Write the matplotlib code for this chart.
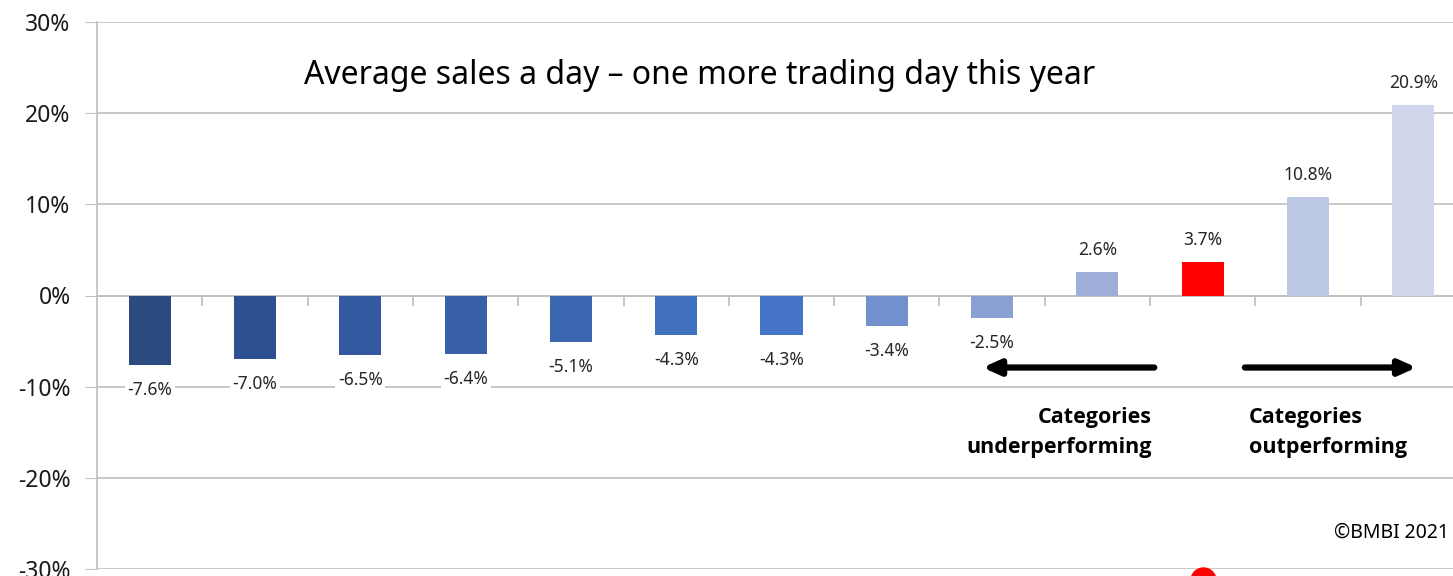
import matplotlib
matplotlib.use('Agg')
import matplotlib.pyplot as plt
import numpy as np

plt.rcParams['font.family'] = ['Noto Sans', 'DejaVu Sans']

# 各カテゴリの平均日販の伸び率 (%)
values = [-7.6, -7.0, -6.5, -6.4, -5.1, -4.3, -4.3, -3.4, -2.5, 2.6, 3.7, 10.8, 20.9]
labels = ['-7.6%', '-7.0%', '-6.5%', '-6.4%', '-5.1%', '-4.3%', '-4.3%',
          '-3.4%', '-2.5%', '2.6%', '3.7%', '10.8%', '20.9%']
colors = ['#2B4A7F', '#2E5090', '#3459A0', '#385FA8', '#3D66B0', '#4170BF', '#4674C9',
          '#7290CC', '#8A9FD2', '#9FAED8', '#FF0000', '#BDC8E3', '#D0D7EC']
yticks = [-30, -20, -10, 0, 10, 20, 30]
title = 'Average sales a day \u2013 one more trading day this year'

fig = plt.figure(figsize=(14.53, 5.76), dpi=100)
ax = fig.add_axes([97 / 1453, 7 / 576, (1466 - 97) / 1453, (569 - 22) / 576])

x = np.arange(len(values))
ax.bar(x, values, width=0.4, color=colors, zorder=3)

ax.set_xlim(-0.5, len(values) - 0.5)
ax.set_ylim(-30, 30)
ax.set_yticks(yticks)
ax.set_yticklabels([f'{t}%' for t in yticks], fontsize=16.5, color='#1a1a1a')
ax.yaxis.grid(True, color='#BFBFBF', linewidth=1.2, zorder=0)
ax.tick_params(axis='y', length=9, color='#BFBFBF', pad=10)

ax.set_xticks(np.arange(0.5, len(values) - 0.5, 1))
ax.set_xticklabels([])
ax.tick_params(axis='x', length=7, color='#BFBFBF', width=1.2)
ax.spines['bottom'].set_position(('data', 0))
ax.spines['bottom'].set_color('#BFBFBF')
ax.spines['bottom'].set_linewidth(1.2)
ax.spines['left'].set_color('#BFBFBF')
ax.spines['left'].set_linewidth(1.2)
ax.spines['top'].set_visible(False)
ax.spines['right'].set_visible(False)

for xi, v, lab in zip(x, values, labels):
    off = 16 if v > 0 else -18
    ax.annotate(lab, (xi, v), xytext=(0, off), textcoords='offset points',
                ha='center', va='center', fontsize=12.5, color='#262626', zorder=4,
                bbox=dict(boxstyle='square,pad=0.15', fc='white', ec='none'))

fig.text(700 / 1453, 1 - 75 / 576, title, ha='center', va='center', fontsize=23)

# 矢印と注記
ax.annotate('', xy=(7.91, -7.9), xytext=(9.54, -7.9),
            arrowprops=dict(arrowstyle='-|>,head_length=1.0,head_width=0.45',
                            lw=4.5, color='black', shrinkA=0, shrinkB=0), zorder=5)
ax.annotate('', xy=(12.03, -7.9), xytext=(10.40, -7.9),
            arrowprops=dict(arrowstyle='-|>,head_length=1.0,head_width=0.45',
                            lw=4.5, color='black', shrinkA=0, shrinkB=0), zorder=5)
ax.text(9.52, -15.0, 'Categories\nunderperforming', ha='right', va='center',
        fontsize=15.5, fontweight='bold', family=['Open Sans', 'DejaVu Sans'],
        linespacing=1.55)
ax.text(10.44, -15.0, 'Categories\noutperforming', ha='left', va='center',
        fontsize=15.5, fontweight='bold', family=['Open Sans', 'DejaVu Sans'],
        linespacing=1.55)

fig.text(1334 / 1453, 1 - 533 / 576, '\u00a9BMBI 2021', ha='left', va='center', fontsize=14)

# 下端の赤い点 (一部のみ表示)
ax.plot([10], [-31.2], 'o', color='red', markersize=18, clip_on=False, zorder=6)

fig.savefig('out.png', dpi=100)
